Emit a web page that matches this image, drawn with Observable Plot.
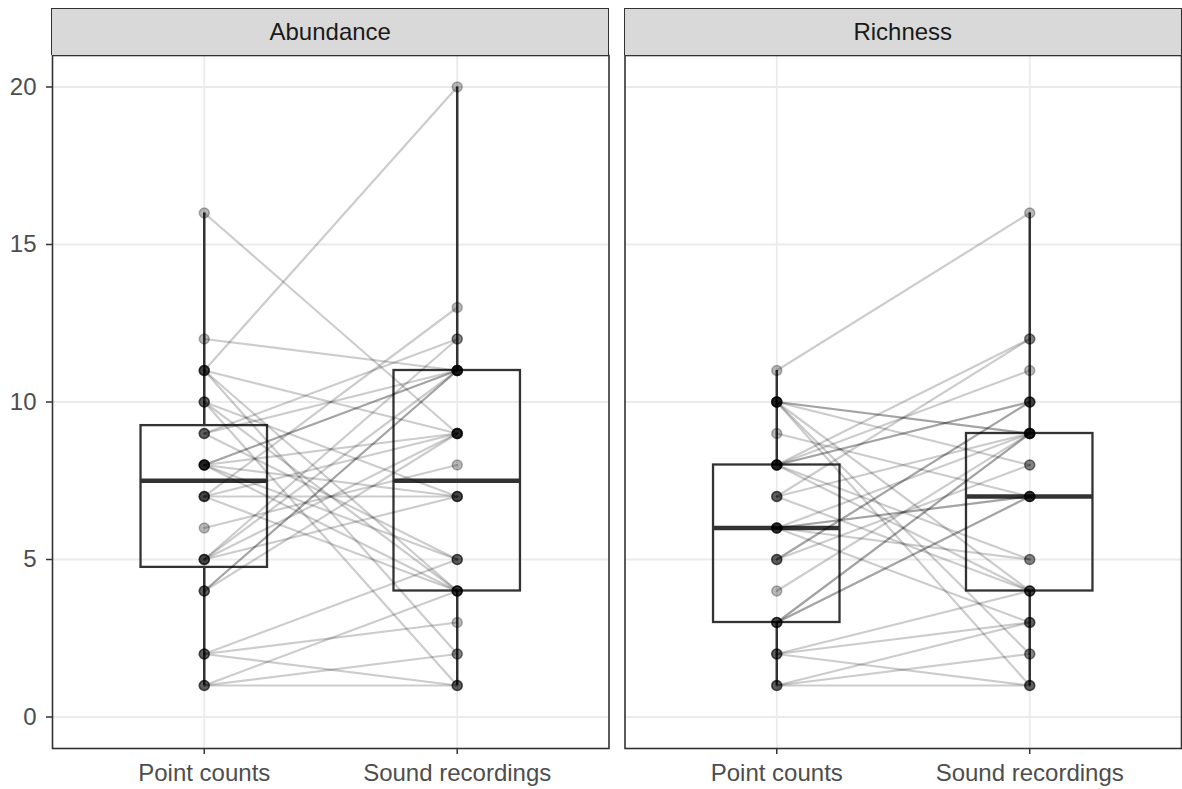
<!DOCTYPE html>
<html>
<head>
<meta charset="utf-8">
<script src="https://cdn.jsdelivr.net/npm/d3@7"></script>
<script src="https://cdn.jsdelivr.net/npm/@observablehq/plot@0.6"></script>
<style>
  html, body { margin: 0; padding: 0; background: #fff; overflow: hidden; }
  #wrap { position: relative; width: 1182px; height: 789px; }
  .strip {
    position: absolute; box-sizing: border-box; background: #d9d9d9;
    border: 1.5px solid #333; border-bottom: none;
    display: flex; align-items: center; justify-content: center;
    font: 24px "Liberation Sans", Arial, sans-serif; color: #1a1a1a;
  }
</style>
</head>
<body>
<div id="wrap"></div>
<script>
// ---- data ----
const metrics = ["Abundance", "Richness"];
const methods = ["Point counts", "Sound recordings"];
const yTicks = [0, 5, 10, 15, 20];

// one entry per site (paired values)
const abundancePointCounts     = [16,12,11,11,11,11,10,10,10,9,9,9,8,8,8,8,8,8,7,7,7,7,6,5,5,5,5,4,4,4,2,2,2,1,1,1];
const abundanceSoundRecordings = [9,11,20,4,2,9,1,4,7,12,5,11,11,11,4,9,7,5,13,9,4,7,8,11,12,9,7,11,9,11,5,1,3,1,2,4];
const richnessPointCounts      = [10,10,11,10,10,10,10,8,9,8,8,8,8,8,7,7,6,6,7,6,6,6,5,5,5,4,3,3,3,3,2,2,2,1,1,1];
const richnessSoundRecordings  = [9,9,16,4,2,8,1,4,7,12,5,10,11,10,4,9,7,5,12,9,3,7,8,10,10,9,7,9,7,9,4,1,3,1,2,3];

const series = {
  Abundance: [abundancePointCounts, abundanceSoundRecordings],
  Richness: [richnessPointCounts, richnessSoundRecordings]
};

// long table
const rows = [];
for (const m of metrics) {
  series[m].forEach((vals, j) => {
    vals.forEach((v, i) => rows.push({metric: m, site: i, method: j, value: v}));
  });
}

// boxplot statistics (Tukey, type-7 quantiles like ggplot)
const boxHalf = 0.25;
const stats = [];
for (const m of metrics) {
  series[m].forEach((vals, j) => {
    const v = vals.slice().sort(d3.ascending);
    const q1 = d3.quantile(v, 0.25), med = d3.quantile(v, 0.5), q3 = d3.quantile(v, 0.75);
    const iqr = q3 - q1;
    const lo = d3.min(v.filter(d => d >= q1 - 1.5 * iqr));
    const hi = d3.max(v.filter(d => d <= q3 + 1.5 * iqr));
    stats.push({metric: m, method: j, left: j - boxHalf, right: j + boxHalf, q1, med, q3, lo, hi});
  });
}

const font = '"Liberation Sans", Arial, sans-serif';
const dark = "#333333";

const chart = Plot.plot({
  width: 1182,
  height: 789,
  marginTop: 55,
  marginBottom: 41,
  marginLeft: 52,
  marginRight: 1,
  style: {fontFamily: font, fontSize: "24px", background: "white", color: "#4d4d4d"},
  fx: {domain: metrics, paddingInner: 16 / 572.5, paddingOuter: 0, round: false, axis: null, label: null},
  x: {domain: [-0.6, 1.6], label: null},
  y: {domain: [-1, 21], label: null},
  marks: [
    Plot.gridY({ticks: yTicks, stroke: "#ebebeb", strokeOpacity: 1, strokeWidth: 1.8}),
    Plot.gridX({ticks: [0, 1], stroke: "#ebebeb", strokeOpacity: 1, strokeWidth: 1.8}),
    // boxplots
    Plot.ruleX(stats, {fx: "metric", x: "method", y1: "q3", y2: "hi", stroke: dark, strokeWidth: 2.5}),
    Plot.ruleX(stats, {fx: "metric", x: "method", y1: "lo", y2: "q1", stroke: dark, strokeWidth: 2.5}),
    Plot.rect(stats, {fx: "metric", x1: "left", x2: "right", y1: "q1", y2: "q3", fill: "none", stroke: dark, strokeWidth: 2.3}),
    Plot.ruleY(stats, {fx: "metric", y: "med", x1: "left", x2: "right", stroke: dark, strokeWidth: 4.5}),
    // paired lines
    Plot.line(rows, {fx: "metric", x: "method", y: "value", z: "site", stroke: "black", strokeOpacity: 0.2, strokeWidth: 2.2}),
    // points
    Plot.dot(rows, {fx: "metric", x: "method", y: "value", r: 5, fill: "black", fillOpacity: 0.28, stroke: "black", strokeOpacity: 0.28, strokeWidth: 1.5}),
    Plot.frame({stroke: dark, strokeWidth: 1.6}),
    Plot.axisY({ticks: yTicks, tickSize: 6, tickPadding: 10, stroke: dark, strokeWidth: 1.5, fill: "#4d4d4d", fontSize: 24, label: null}),
    Plot.axisX({ticks: [0, 1], tickFormat: i => methods[i], tickSize: 6, tickPadding: 9, stroke: dark, strokeWidth: 1.5, fill: "#4d4d4d", fontSize: 24, label: null})
  ]
});

const wrap = document.getElementById("wrap");
wrap.appendChild(chart);

// facet strips placed from the fx scale
const fx = chart.scale("fx");
for (const m of metrics) {
  const x0 = fx.apply(m);
  const div = document.createElement("div");
  div.className = "strip";
  div.style.left = (x0 - 0.8) + "px";
  div.style.top = "8px";
  div.style.width = (fx.bandwidth + 1.6) + "px";
  div.style.height = "47px";
  div.textContent = m;
  wrap.appendChild(div);
}
</script>
</body>
</html>
